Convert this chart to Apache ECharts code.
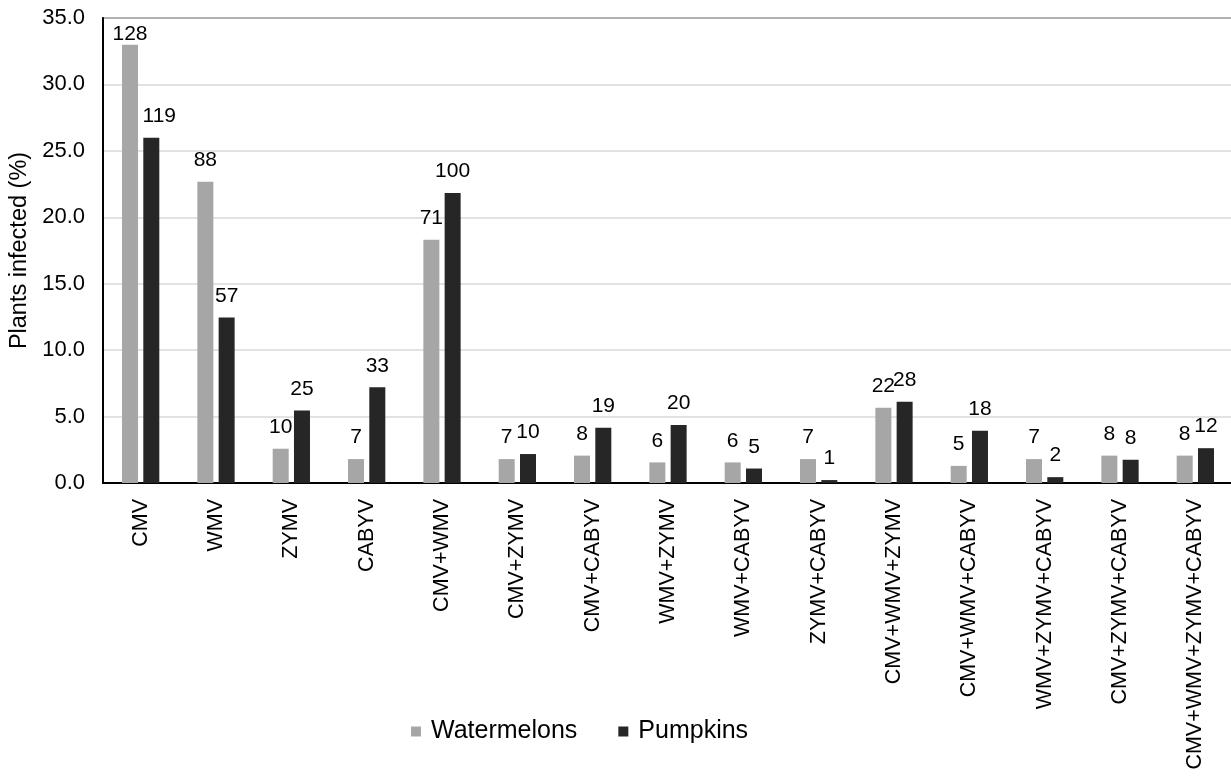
<!DOCTYPE html>
<html>
<head>
<meta charset="utf-8">
<script src="https://cdn.jsdelivr.net/npm/echarts@6/dist/echarts.min.js"></script>
<style>
html,body{margin:0;padding:0;background:#fff;}
#chart{width:1231px;height:782px;}
</style>
</head>
<body>
<div id="chart"></div>
<script>
const categories = ['CMV','WMV','ZYMV','CABYV','CMV+WMV','CMV+ZYMV','CMV+CABYV','WMV+ZYMV','WMV+CABYV','ZYMV+CABYV','CMV+WMV+ZYMV','CMV+WMV+CABYV','WMV+ZYMV+CABYV','CMV+ZYMV+CABYV','CMV+WMV+ZYMV+CABYV'];
const watermelonPct = [32.99, 22.68, 2.58, 1.80, 18.30, 1.80, 2.06, 1.55, 1.55, 1.80, 5.67, 1.29, 1.80, 2.06, 2.06];
const pumpkinPct = [25.98, 12.45, 5.46, 7.21, 21.83, 2.18, 4.15, 4.37, 1.09, 0.22, 6.11, 3.93, 0.44, 1.75, 2.62];
const watermelonCounts = [128, 88, 10, 7, 71, 7, 8, 6, 6, 7, 22, 5, 7, 8, 8];
const pumpkinCounts = [119, 57, 25, 33, 100, 10, 19, 20, 5, 1, 28, 18, 2, 8, 12];
const yTicks = {min: 0, max: 35, interval: 5};

const FONT = '"Liberation Sans", Arial, sans-serif';
const chart = echarts.init(document.getElementById('chart'), null, {renderer: 'canvas'});

function makeData(vals, idx, labelOverride) {
  return vals.map((v, i) => (i === idx ? {value: v, label: labelOverride} : v));
}

chart.setOption({
  animation: false,
  backgroundColor: '#fff',
  textStyle: {fontFamily: FONT, color: '#000'},
  grid: {left: 103, top: 18, right: -2, bottom: 299, containLabel: false, outerBoundsMode: 'none',
         show: true, borderColor: '#000', borderWidth: 1.5, backgroundColor: 'transparent'},
  legend: {
    left: 406, top: 714,
    itemWidth: 10, itemHeight: 10, itemGap: 41,
    icon: 'rect',
    textStyle: {fontFamily: FONT, fontSize: 25, color: '#000', padding: [0, 0, 0, 5]},
    data: ['Watermelons', 'Pumpkins']
  },
  xAxis: {
    type: 'category',
    data: categories,
    axisLine: {show: true, lineStyle: {color: '#000', width: 2}},
    axisTick: {show: false},
    axisLabel: {interval: 0, rotate: 90, margin: 16, fontSize: 21.5, color: '#000', fontFamily: FONT}
  },
  yAxis: {
    type: 'value',
    min: yTicks.min, max: yTicks.max, interval: yTicks.interval,
    name: 'Plants infected (%)',
    nameLocation: 'middle',
    nameGap: 70,
    nameTextStyle: {fontSize: 23.5, color: '#000', fontFamily: FONT},
    axisLine: {show: true, lineStyle: {color: '#000', width: 2}},
    axisTick: {show: false},
    axisLabel: {fontSize: 22, color: '#000', margin: 18, fontFamily: FONT,
                formatter: v => v.toFixed(1)},
    splitLine: {show: true, lineStyle: {color: '#d9d9d9', width: 1.5}}
  },
  series: [
    {
      name: 'Watermelons', type: 'bar',
      data: makeData(watermelonPct, 0, {distance: 0}),
      barWidth: 16, barGap: '33%',
      itemStyle: {color: '#a6a6a6'},
      label: {show: true, position: 'top', distance: 11, fontSize: 21, color: '#000', fontFamily: FONT,
              formatter: p => String(watermelonCounts[p.dataIndex])}
    },
    {
      name: 'Pumpkins', type: 'bar',
      data: makeData(pumpkinPct, 0, {offset: [8, 0]}),
      barWidth: 16, barGap: '33%',
      itemStyle: {color: '#262626'},
      label: {show: true, position: 'top', distance: 11, fontSize: 21, color: '#000', fontFamily: FONT,
              formatter: p => String(pumpkinCounts[p.dataIndex])}
    }
  ]
});
</script>
</body>
</html>
